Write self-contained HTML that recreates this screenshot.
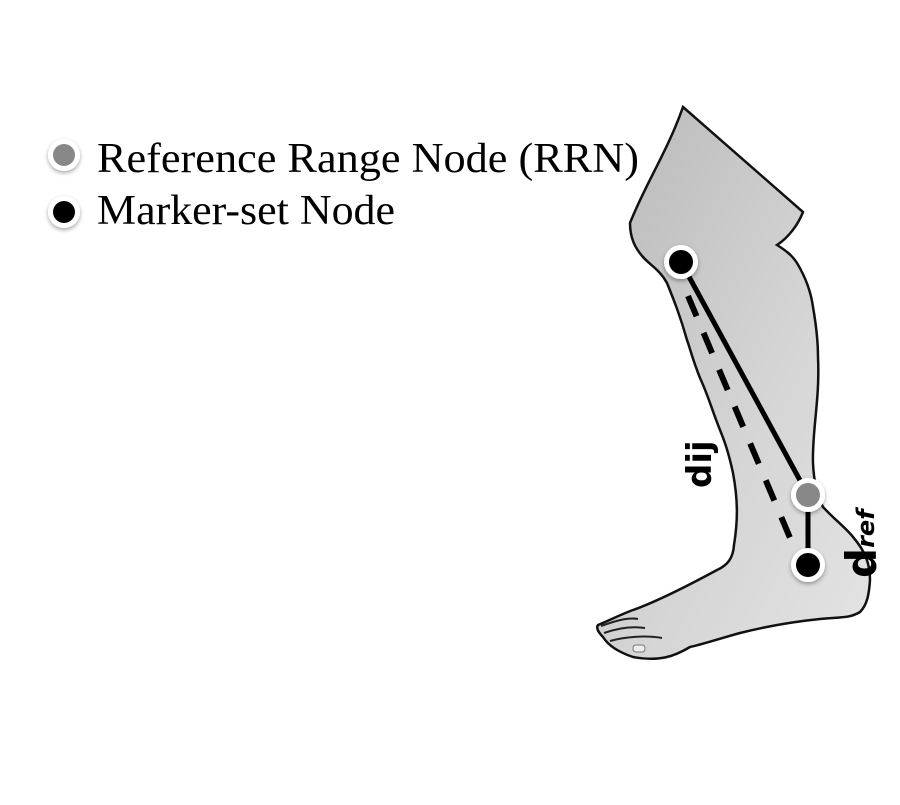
<!DOCTYPE html>
<html><head><style>body{margin:0;background:#fff}</style></head><body>
<svg width="900" height="800" viewBox="0 0 900 800" xmlns="http://www.w3.org/2000/svg">
<defs>
<linearGradient id="g" x1="0" y1="0" x2="1" y2="1">
<stop offset="0" stop-color="#b8b8b8"/><stop offset="0.55" stop-color="#d4d4d4"/><stop offset="1" stop-color="#e4e4e4"/>
</linearGradient>
<filter id="sh"><feDropShadow dx="0" dy="2" stdDeviation="2" flood-color="#000" flood-opacity="0.35"/></filter>
</defs>
<path d="M683,107 L803,212 C798,225 788,238 777,245 C785,250 792,255 797,263 C806,278 811,292 813,307 C817,330 818,345 818,357 C820,400 812,430 813,463 C814,485 818,498 823,507 C835,520 846,528 853,537 C866,552 870,565 870,580 C869,595 867,605 860,612 C850,618 843,617 820,619 C790,622 760,628 740,633 C715,640 700,645 690,647 C675,656 660,662 633,657 C618,652 608,645 603,637 C598,632 596,628 598,625 C610,620 622,614 633,610 C650,604 680,590 717,570 C728,565 733,558 734,545 C738,520 738,500 733,473 C728,450 724,440 720,430 C712,410 708,395 700,378 C692,358 690,348 687,340 C680,315 673,298 667,283 C660,270 650,265 643,257 C635,248 630,238 630,223 C645,185 668,150 683,107 Z" fill="url(#g)" stroke="#111" stroke-width="2.5"/>
<path d="M601,626 C615,621 628,617 638,619 M604,633 C618,628 632,626 645,628 M610,641 C624,637 645,635 662,638" fill="none" stroke="#222" stroke-width="2"/>
<rect x="633" y="645" width="12" height="7" rx="3" fill="#eee" stroke="#777"/>
<line x1="681" y1="262" x2="808" y2="495" stroke="#000" stroke-width="5"/>
<line x1="688" y1="296" x2="796" y2="552" stroke="#000" stroke-width="6" stroke-dasharray="22,18"/>
<line x1="808" y1="495" x2="808" y2="565" stroke="#000" stroke-width="5"/>
<g filter="url(#sh)">
<circle cx="681" cy="262" r="17" fill="#fff"/><circle cx="681" cy="262" r="12" fill="#000"/>
<circle cx="808" cy="495" r="17" fill="#fff"/><circle cx="808" cy="495" r="12" fill="#888"/>
<circle cx="808" cy="565" r="17" fill="#fff"/><circle cx="808" cy="565" r="12" fill="#000"/>
<circle cx="64" cy="155" r="16" fill="#fff"/><circle cx="64" cy="155" r="11" fill="#888"/>
<circle cx="64" cy="212" r="16" fill="#fff"/><circle cx="64" cy="212" r="11" fill="#000"/>
</g>
<text x="97" y="172" font-family="Liberation Serif, serif" font-size="42" textLength="542" lengthAdjust="spacingAndGlyphs">Reference Range Node (RRN)</text>
<text x="97" y="224" font-family="Liberation Serif, serif" font-size="42" textLength="298" lengthAdjust="spacingAndGlyphs">Marker-set Node</text>
<text transform="translate(711,488) rotate(-90)" font-family="DejaVu Sans, sans-serif" font-weight="bold" font-size="34">dij</text>
<text transform="translate(876,578) rotate(-90)" font-family="DejaVu Sans, sans-serif" font-weight="bold" font-size="42">d<tspan font-size="24" font-style="italic" dy="-2">ref</tspan></text>
</svg>
</body></html>
